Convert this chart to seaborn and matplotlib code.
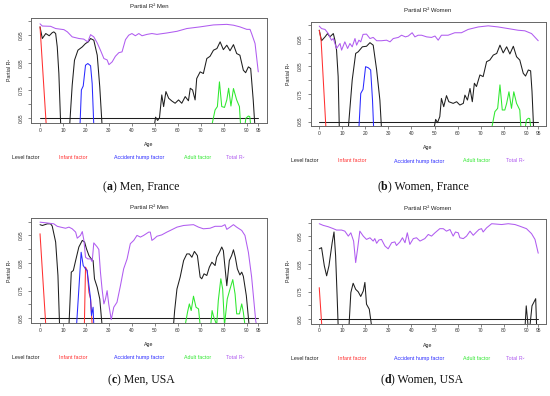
import matplotlib
matplotlib.use("Agg")
import matplotlib.pyplot as plt
import seaborn as sns

# ---- data (ages, partial R^2); 0.625 = below the plotted range ----
base_age = [0, 95]
base = [0.65, 0.65]

# (a) Men, France
a_total_age = [0, 1, 4.6, 6.8, 10.4, 11.9, 14, 17, 19, 20.8, 22, 23.4, 24.9, 26.3, 27.8, 29.2, 30, 31.4, 32.8, 34.3,
               35.7, 37.2, 38.6, 40, 41.5, 43, 44.4, 46.6, 48.7, 50.9, 55.2, 59.6, 63.9, 69.7, 75.5, 81.3, 84.2, 87,
               90, 91.4, 92.1, 93.6, 95]
a_total = [0.990, 0.982, 0.981, 0.973, 0.969, 0.961, 0.943, 0.937, 0.935, 0.925, 0.951, 0.943, 0.921, 0.895, 0.865,
           0.860, 0.843, 0.853, 0.873, 0.886, 0.889, 0.933, 0.949, 0.955, 0.947, 0.955, 0.947, 0.952, 0.955, 0.952,
           0.957, 0.963, 0.973, 0.979, 0.986, 0.988, 0.985, 0.979, 0.970, 0.970, 0.955, 0.919, 0.817]
a_level_age = [0, 1, 2.5, 4, 5.3, 6, 6.8, 7.5, 8.2, 9, 12.9, 14, 15, 16.5, 18.4, 19.8, 21, 22, 23.4, 24.9, 26, 27,
               49.8, 50.3, 51.2, 52, 53, 53.8, 54.8, 56, 57.4, 58.8, 60.3, 61.7, 63.2, 64.6, 65.4, 66.4, 67.5, 68.2,
               69.7, 71.1, 72.6, 74, 75.5, 77, 78.4, 79.8, 81.3, 82.7, 84.2, 85.6, 87, 88.5, 89.5, 90.7, 91.7, 92.8,
               93.5]
a_level = [0.979, 0.937, 0.955, 0.947, 0.958, 0.961, 0.955, 0.907, 0.811, 0.625, 0.625, 0.769, 0.859, 0.895, 0.907,
           0.919, 0.925, 0.937, 0.931, 0.877, 0.763, 0.625, 0.625, 0.654, 0.642, 0.652, 0.734, 0.692, 0.746, 0.722,
           0.712, 0.704, 0.716, 0.704, 0.728, 0.713, 0.758, 0.752, 0.716, 0.793, 0.817, 0.811, 0.865, 0.873, 0.895,
           0.901, 0.925, 0.897, 0.913, 0.893, 0.915, 0.883, 0.877, 0.823, 0.814, 0.835, 0.829, 0.716, 0.625]
a_infant_age = [0, 2.7]
a_infant = [0.979, 0.625]
a_hump_age = [17.4, 18, 18.8, 19.8, 20.8, 22, 22.7, 23.4]
a_hump = [0.625, 0.752, 0.766, 0.841, 0.847, 0.839, 0.775, 0.625]
a_adult_age = [74.8, 76.2, 77.2, 78.1, 79.1, 80.3, 81.3, 82.1, 83.1, 84.2, 85.6, 86.8, 87.3, 89.2, 89.6, 90.7, 91.3,
               91.7]
a_adult = [0.625, 0.680, 0.692, 0.781, 0.692, 0.689, 0.716, 0.758, 0.694, 0.757, 0.716, 0.692, 0.625, 0.625, 0.650,
           0.658, 0.656, 0.625]

# (b) Women, France
b_total_age = [0, 1, 2.5, 3.9, 5.3, 6.1, 7.5, 9, 9.7, 11.1, 12.3, 13.3, 14.3, 15.5, 16.2, 17.2, 18, 19, 20.5, 22,
               23.4, 24.9, 27, 29.2, 30.7, 32.1, 34.3, 35.7, 37.4, 38.6, 40.3, 41.5, 42.9, 44.4, 46.6, 48.7, 50.2,
               51.6, 53, 55.9, 58.8, 61.7, 64.6, 69, 73.3, 77.6, 82, 86.3, 89.2, 92.1, 95]
b_total = [0.996, 0.987, 0.984, 0.969, 0.945, 0.951, 0.915, 0.933, 0.909, 0.939, 0.915, 0.933, 0.921, 0.951, 0.927,
           0.945, 0.939, 0.966, 0.967, 0.951, 0.955, 0.943, 0.943, 0.945, 0.939, 0.951, 0.955, 0.963, 0.957, 0.960,
           0.972, 0.957, 0.963, 0.963, 0.957, 0.955, 0.960, 0.945, 0.963, 0.963, 0.972, 0.972, 0.984, 0.993, 0.997,
           0.993, 0.987, 0.981, 0.979, 0.969, 0.943]
b_level_age = [0, 1, 2.5, 3.6, 4.6, 6.1, 6.8, 7.5, 8.2, 8.7, 12.6, 14.3, 15.8, 16.9, 18.7, 20.5, 22, 23.4, 24.9, 26.3,
               27, 49.8, 50.5, 51.3, 52.3, 53, 54, 55.2, 56.2, 58.1, 59.6, 61, 62.5, 63.2, 64.3, 65.4, 66.4, 67.3,
               68.2, 69.7, 71.1, 72.6, 74, 75.5, 77, 78.4, 79.8, 81.3, 82.7, 84.2, 85.6, 87, 88.5, 89.5, 90.7, 91.7,
               92.3, 93]
b_level = [0.981, 0.943, 0.957, 0.969, 0.957, 0.969, 0.945, 0.909, 0.813, 0.625, 0.625, 0.801, 0.897, 0.903, 0.921,
           0.923, 0.936, 0.927, 0.837, 0.728, 0.625, 0.625, 0.658, 0.646, 0.668, 0.734, 0.704, 0.744, 0.722, 0.716,
           0.722, 0.710, 0.716, 0.746, 0.728, 0.770, 0.722, 0.789, 0.777, 0.819, 0.813, 0.867, 0.873, 0.891, 0.897,
           0.927, 0.899, 0.921, 0.895, 0.923, 0.885, 0.873, 0.825, 0.815, 0.837, 0.834, 0.760, 0.625]
b_infant_age = [0, 0.8, 2.9]
b_infant = [0.981, 0.945, 0.625]
b_hump_age = [17.2, 18, 19, 20.1, 21.3, 22.3, 23.1, 23.6]
b_hump = [0.625, 0.752, 0.767, 0.849, 0.845, 0.837, 0.728, 0.625]
b_adult_age = [74.8, 76.2, 77.4, 78.4, 79.4, 80.5, 81.3, 82.3, 83.4, 84.4, 85.6, 87, 87.5, 89.3, 89.9, 90.7, 91.3,
               91.8]
b_adult = [0.625, 0.686, 0.698, 0.783, 0.692, 0.692, 0.716, 0.758, 0.698, 0.758, 0.716, 0.692, 0.625, 0.625, 0.656,
           0.662, 0.661, 0.625]

# (c) Men, USA
c_total_age = [0, 3.2, 6, 7.5, 9, 11.1, 12.6, 14, 15.5, 16.2, 17.6, 18.4, 19.1, 19.8, 20.8, 22, 22.7, 23.4, 24.9,
               25.6, 26.3, 27, 27.8, 28.5, 29.2, 29.9, 31, 32.1, 33.5, 35, 36.4, 37.9, 39.3, 40.8, 42.2, 43.7, 45.1,
               47.3, 48, 48.7, 49.7, 50.9, 53, 55.2, 56.7, 59.6, 62.5, 66.8, 69, 71.1, 74, 76.2, 79.1, 80.5, 81.3,
               82.7, 84.2, 85.6, 87.8, 89.2, 90.7, 92.1, 93.9, 94.3]
c_total = [0.998, 0.995, 0.992, 0.983, 0.980, 0.976, 0.980, 0.974, 0.962, 0.940, 0.950, 0.964, 0.932, 0.871, 0.865,
           0.865, 0.855, 0.923, 0.908, 0.899, 0.817, 0.756, 0.702, 0.720, 0.750, 0.702, 0.645, 0.690, 0.708, 0.768,
           0.829, 0.865, 0.920, 0.932, 0.950, 0.944, 0.950, 0.962, 0.962, 0.932, 0.938, 0.947, 0.952, 0.962, 0.968,
           0.980, 0.986, 0.989, 0.980, 0.974, 0.976, 0.983, 0.983, 0.989, 0.972, 0.980, 0.989, 0.980, 0.968, 0.950,
           0.889, 0.800, 0.640, 0.625]
c_level_age = [0, 1, 3.2, 4.6, 5.3, 6.8, 7.8, 8.5, 12.6, 13.6, 14.5, 15.5, 16.9, 18.4, 19.4, 20.2, 21.3, 22.3, 23.1,
               23.7, 24.9, 26, 27, 58.1, 58.6, 59.6, 61, 62.5, 63.9, 65, 66.1, 67.2, 68.5, 69.7, 70.4, 71.4, 72.6,
               73.7, 74.8, 76.2, 76.9, 78.1, 79.1, 79.8, 81.3, 82.4, 83.4, 84.2, 85, 85.9, 87, 87.8, 88.5, 89.8, 91]
c_level = [0.989, 0.986, 0.992, 0.992, 0.984, 0.926, 0.805, 0.625, 0.625, 0.817, 0.823, 0.859, 0.908, 0.932, 0.926,
           0.902, 0.877, 0.865, 0.859, 0.793, 0.762, 0.720, 0.625, 0.625, 0.678, 0.756, 0.799, 0.859, 0.883, 0.883,
           0.871, 0.892, 0.877, 0.799, 0.793, 0.811, 0.805, 0.835, 0.853, 0.841, 0.871, 0.889, 0.908, 0.895, 0.768,
           0.859, 0.877, 0.898, 0.871, 0.829, 0.807, 0.817, 0.802, 0.732, 0.625]
c_infant_age = [0, 2.5, 19.3, 19.8, 20.5, 21.3, 22, 22.7]
c_infant = [0.956, 0.625, 0.625, 0.835, 0.823, 0.744, 0.720, 0.625]
c_hump_age = [15.9, 16.9, 17.9, 18.8, 19.8, 20.5, 21.3, 22, 22.4, 23.1, 23.4]
c_hump = [0.625, 0.756, 0.889, 0.841, 0.829, 0.823, 0.768, 0.720, 0.660, 0.690, 0.625]
c_adult_age = [63.2, 64.2, 65, 65.8, 66.8, 67.9, 69, 69.7, 74.3, 74.9, 75.5, 76.9, 77.6, 78.7, 79.5, 80.3, 81.5,
               82.7, 83.9, 84.9, 85.6, 86.8, 87.8, 88.5, 89.2]
c_adult = [0.625, 0.672, 0.702, 0.678, 0.730, 0.690, 0.684, 0.625, 0.625, 0.678, 0.658, 0.625, 0.714, 0.793, 0.756,
           0.625, 0.720, 0.756, 0.790, 0.738, 0.666, 0.666, 0.702, 0.672, 0.625]

# (d) Women, USA
d_total_age = [0, 1.7, 3.9, 6.1, 7.5, 9.7, 11.1, 12.6, 13.7, 14.9, 15.8, 16.6, 17.6, 19.1, 20.5, 22, 23.4, 24.1,
               24.9, 25.9, 27, 28.5, 29.9, 31.4, 32.8, 33.5, 35, 36.1, 37.2, 38.2, 39.3, 40.8, 42.2, 43.7, 45.8, 47.3,
               48.7, 50.2, 52.3, 53.8, 55.2, 56.7, 58.1, 59.1, 60.3, 61, 62.5, 63.9, 65.4, 66.8, 68.2, 69.3, 70.4,
               71.1, 72.6, 74.8, 79.1, 82, 84.9, 87, 89.9, 92.1, 93.6, 95]
d_total = [0.996, 0.990, 0.985, 0.978, 0.973, 0.973, 0.969, 0.951, 0.963, 0.933, 0.855, 0.903, 0.969, 0.951, 0.939,
           0.945, 0.933, 0.942, 0.925, 0.937, 0.939, 0.915, 0.905, 0.927, 0.930, 0.917, 0.930, 0.945, 0.927, 0.963,
           0.921, 0.942, 0.945, 0.933, 0.942, 0.957, 0.951, 0.963, 0.978, 0.978, 0.969, 0.975, 0.951, 0.966, 0.963,
           0.945, 0.942, 0.951, 0.969, 0.954, 0.966, 0.975, 0.978, 0.966, 0.981, 0.996, 0.993, 0.996, 0.993, 0.987,
           0.978, 0.960, 0.939, 0.889]
d_level_age = [0, 1, 2.2, 3.2, 4.2, 5.6, 6.4, 7.1, 7.8, 8.2, 12.9, 13.7, 14.7, 15.8, 16.9, 18, 19.1, 19.8, 20.5,
               21.7, 22.7, 89.3, 89.8, 90.6, 91.4, 92.3, 93.9, 94.3]
d_level = [0.905, 0.909, 0.843, 0.807, 0.843, 0.927, 0.966, 0.879, 0.722, 0.625, 0.625, 0.746, 0.780, 0.758, 0.749,
           0.732, 0.752, 0.783, 0.704, 0.686, 0.625, 0.625, 0.698, 0.625, 0.625, 0.698, 0.724, 0.625]
d_infant_age = [0, 1.1]
d_infant = [0.764, 0.625]

legend_labels = ["Level factor", "Infant factor", "Accident hump factor", "Adult factor", "Total R\u00b2"]
x_ticks = [0, 10, 20, 30, 40, 50, 60, 70, 80, 90, 95]
y_ticks = [0.65, 0.70, 0.75, 0.80, 0.85, 0.90, 0.95, 1.00]
y_ticklabels = ["0.65", "", "0.75", "", "0.85", "", "0.95", ""]

BLACK, RED, BLUE, GREEN, PURPLE = "#1e1e1e", "#ff3030", "#2a2aff", "#2ee82e", "#b05cf0"
legend_colors = [BLACK, RED, BLUE, GREEN, PURPLE]
legend_offsets = [-5.7, 41.5, 108.2, 166.3, 204.3]  # px from axes left

W, H = 550, 396

sns.set_theme(style="white")
plt.rcParams["font.family"] = ["Liberation Sans", "DejaVu Sans"]

fig = plt.figure(figsize=(W / 100, H / 100), dpi=100)
fig.patch.set_facecolor("white")


def px(x, y):
    return x / W, 1 - y / H


def draw_panel(box, xmax, title, series):
    l, t, r, b = box
    ax = fig.add_axes([l / W, 1 - b / H, (r - l) / W, (b - t) / H])
    sns.lineplot(x=base_age, y=base, ax=ax, color=BLACK, linewidth=0.75, estimator=None, sort=False, legend=False)
    for ages, vals, col in series:
        sns.lineplot(x=ages, y=vals, ax=ax, color=col, linewidth=0.75, estimator=None, sort=False, legend=False)
    ax.set_xlim(-3.8, xmax)
    ax.set_ylim(0.634, 1.012)
    ax.set_xticks(x_ticks)
    ax.set_xticklabels([str(v) for v in x_ticks], fontsize=3.5, color="#333333")
    ax.set_yticks(y_ticks)
    ax.set_yticklabels(y_ticklabels, fontsize=3.5, color="#333333", rotation=90, va="center")
    ax.tick_params(axis="both", direction="out", length=2.4, width=0.5, color="#555555")
    ax.tick_params(axis="x", pad=1.2, bottom=True)
    ax.tick_params(axis="y", pad=3.2, left=True)
    ax.set_xlabel("")
    ax.set_ylabel("")
    for s in ax.spines.values():
        s.set_color("#666666")
        s.set_linewidth(0.7)
    ax.set_facecolor("white")
    cx = (l + r) / 2
    fig.text(*px(cx, t - 11), title, ha="center", va="center", fontsize=4.3, color="#222222")
    fig.text(*px(cx, b + 22), "Age", ha="center", va="center", fontsize=3.8, color="#222222")
    fig.text(*px(l - 22, (t + b) / 2), "Partial R\u00b2", ha="center", va="center", rotation=90,
             fontsize=3.8, color="#222222")
    for lab, col, off in zip(legend_labels, legend_colors, legend_offsets):
        fig.text(*px(l + off, b + 35), lab, ha="center", va="center", fontsize=3.8, color=col)
    return ax


def caption(cx, cy, letter, rest):
    renderer = fig.canvas.get_renderer()
    parts = [("(", "normal"), (letter, "bold"), (") " + rest, "normal")]
    texts = [fig.text(0, 0, s, fontsize=8.5, family="Liberation Serif", weight=w, color="#111111", va="center")
             for s, w in parts]
    widths = [tx.get_window_extent(renderer).width for tx in texts]
    x = cx - sum(widths) / 2
    for tx, w in zip(texts, widths):
        tx.set_position(px(x, cy))
        x += w


draw_panel((31.3, 17.7, 267.0, 122.7), 98.8, "Partial R\u00b2 Men",
           [(a_level_age, a_level, BLACK), (a_infant_age, a_infant, RED), (a_hump_age, a_hump, BLUE),
            (a_adult_age, a_adult, GREEN), (a_total_age, a_total, PURPLE)])
draw_panel((310.5, 21.7, 545.6, 126.0), 98.2, "Partial R\u00b2 Women",
           [(b_level_age, b_level, BLACK), (b_infant_age, b_infant, RED), (b_hump_age, b_hump, BLUE),
            (b_adult_age, b_adult, GREEN), (b_total_age, b_total, PURPLE)])
draw_panel((31.3, 218.3, 267.0, 322.7), 98.8, "Partial R\u00b2 Men",
           [(c_level_age, c_level, BLACK), (c_infant_age, c_infant, RED), (c_hump_age, c_hump, BLUE),
            (c_adult_age, c_adult, GREEN), (c_total_age, c_total, PURPLE)])
draw_panel((310.5, 219.3, 545.6, 323.5), 98.2, "Partial R\u00b2 Women",
           [(d_level_age, d_level, BLACK), (d_infant_age, d_infant, RED), (d_total_age, d_total, PURPLE)])

caption(141, 187, "a", "Men, France")
caption(423, 187, "b", "Women, France")
caption(141, 380, "c", "Men, USA")
caption(422, 380, "d", "Women, USA")

fig.savefig("out.png", dpi=100, facecolor="white")
